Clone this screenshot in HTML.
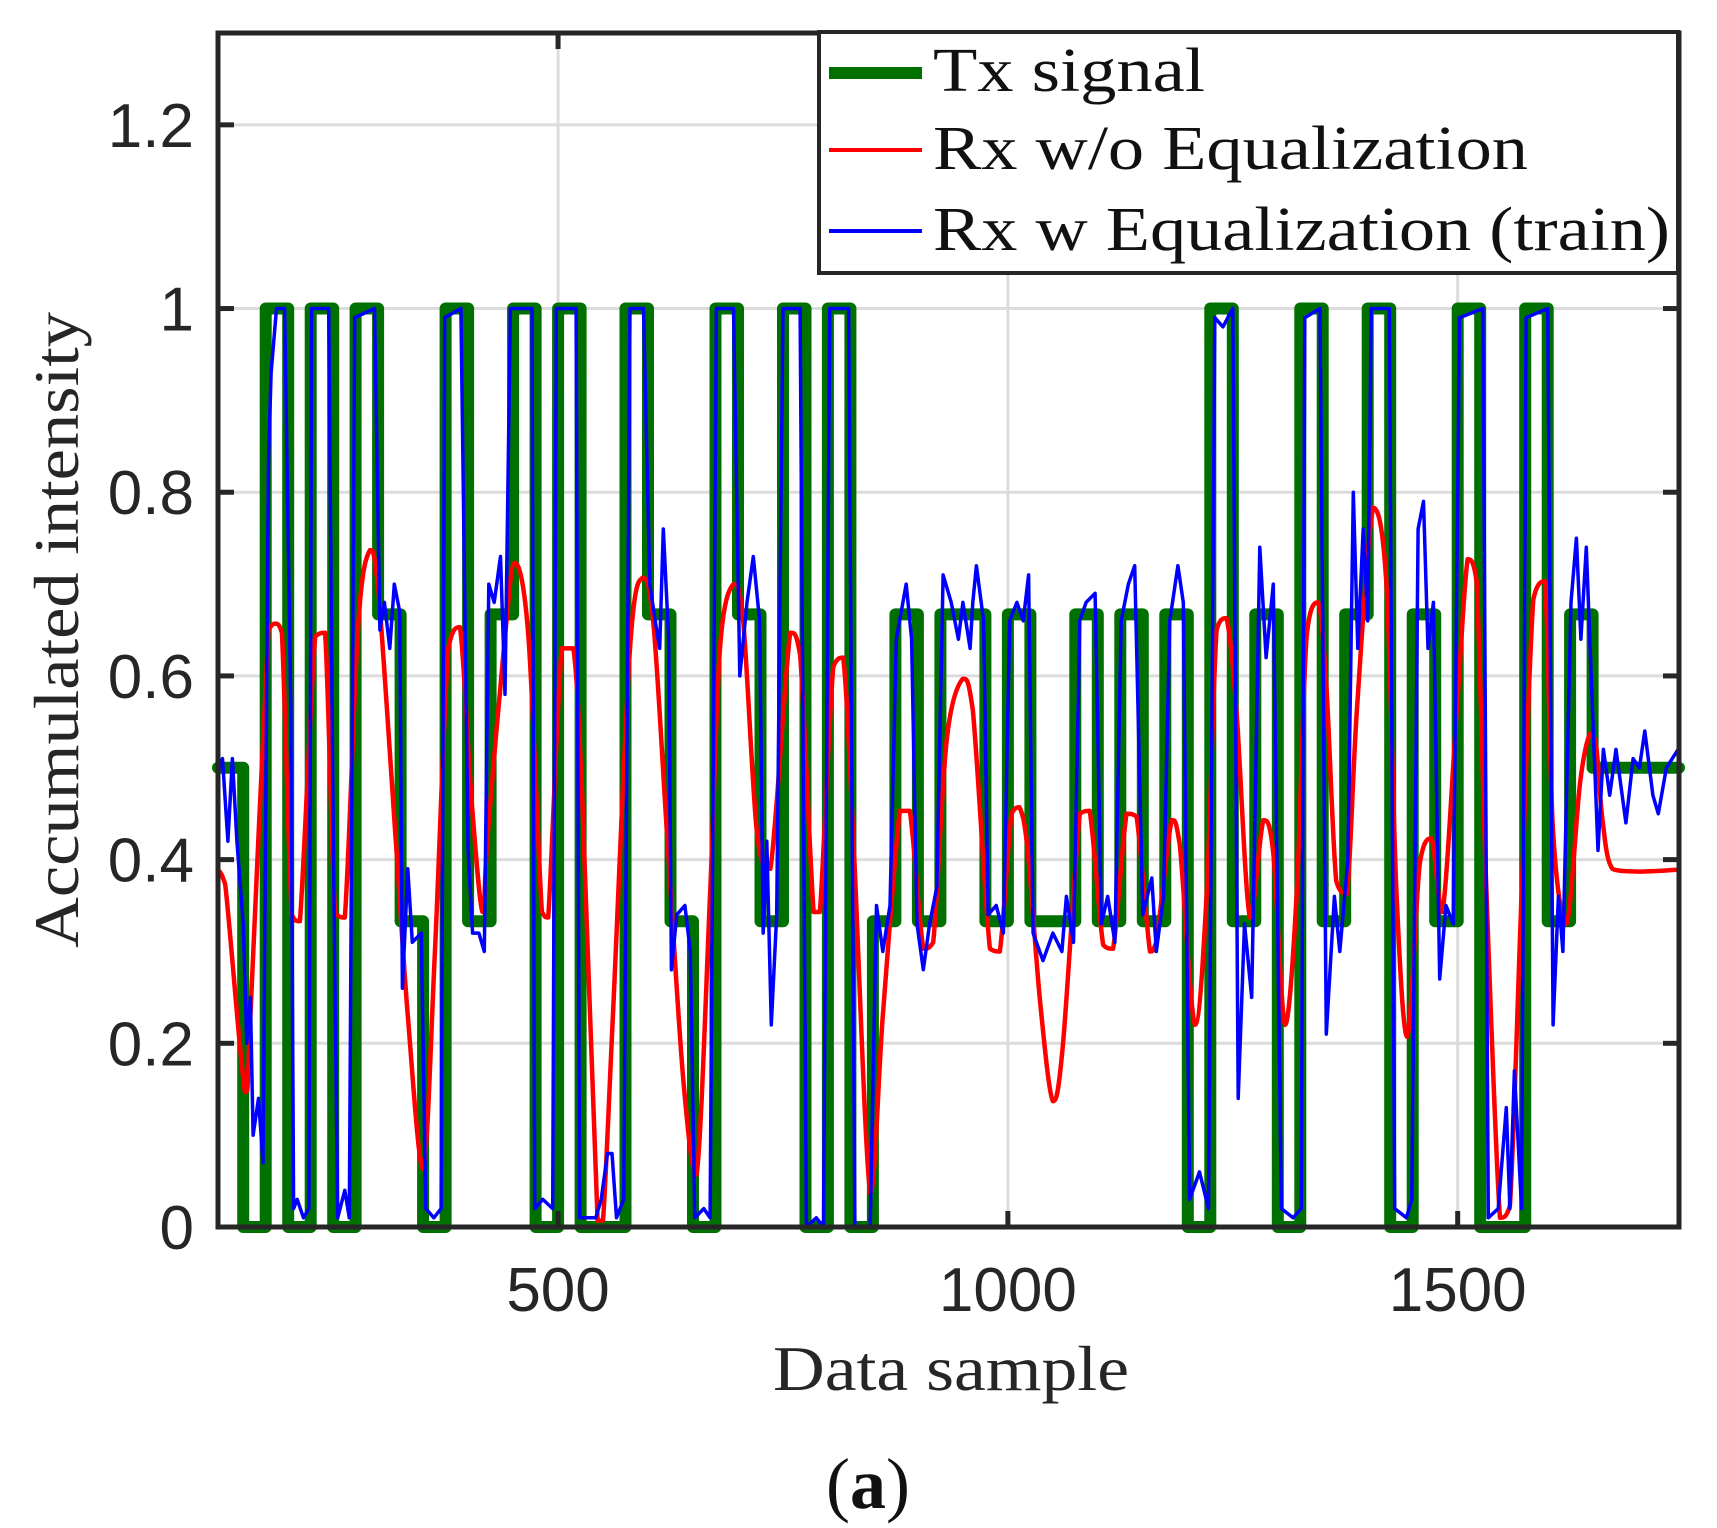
<!DOCTYPE html>
<html><head><meta charset="utf-8"><style>
html,body{margin:0;padding:0;background:#fff;}
svg{display:block;}
</style></head><body>
<svg id="chart" width="1717" height="1528" viewBox="0 0 1717 1528" xmlns="http://www.w3.org/2000/svg">
<rect width="1717" height="1528" fill="#fff"/>
<g id="grid"></g>
<g id="series"></g>
<g id="axes"></g>
<text x="951" y="1390" text-anchor="middle" font-family="Liberation Serif, serif" font-size="64" textLength="356" lengthAdjust="spacingAndGlyphs" fill="#262626">Data sample</text>
<text transform="translate(78,630) rotate(-90)" text-anchor="middle" font-family="Liberation Serif, serif" font-size="64" textLength="636" lengthAdjust="spacingAndGlyphs" fill="#262626">Accumulated intensity</text>
<text x="868" y="1508" text-anchor="middle" font-family="Liberation Serif, serif" font-size="72" fill="#111">(<tspan font-weight="bold">a</tspan>)</text>
<g id="legend">
<rect x="819" y="32" width="859" height="241" fill="#fff" stroke="#262626" stroke-width="4"/>
<line x1="829" y1="73" x2="922" y2="73" stroke="#007000" stroke-width="12"/>
<text x="933" y="91" font-family="Liberation Serif, serif" font-size="62" textLength="272" lengthAdjust="spacingAndGlyphs" fill="#111">Tx signal</text>
<line x1="829" y1="150" x2="922" y2="150" stroke="#ff0000" stroke-width="4"/>
<text x="933" y="169" font-family="Liberation Serif, serif" font-size="62" textLength="595" lengthAdjust="spacingAndGlyphs" fill="#111">Rx w/o Equalization</text>
<line x1="829" y1="231" x2="922" y2="231" stroke="#0000ff" stroke-width="4"/>
<text x="933" y="250" font-family="Liberation Serif, serif" font-size="62" textLength="737" lengthAdjust="spacingAndGlyphs" fill="#111">Rx w Equalization (train)</text>
</g>
</svg>
<script>
const xTicks=[500,1000,1500];
const yTicks=[0,0.2,0.4,0.6,0.8,1,1.2];
const yTickLabels=["0","0.2","0.4","0.6","0.8","1","1.2"];
const xDomain=[122,1746];
const yDomain=[0,1.3];
// Tx step signal: segment start samples and levels
const txStarts=[122,150,175,200,225,250,275,300,325,350,375,400,425,450,475,500,525,575,600,625,650,675,700,725,750,775,800,825,850,875,900,925,975,1000,1025,1075,1100,1125,1150,1175,1200,1225,1250,1275,1300,1325,1350,1375,1400,1425,1450,1475,1500,1525,1575,1600,1625,1650];
const txLevels=[0.5,0,1,0,1,0,1,0.667,0.333,0,1,0.333,0.667,1,0,1,0,1,0.667,0.333,0,1,0.667,0.333,1,0,1,0,0.333,0.667,0.333,0.667,0.333,0.667,0.333,0.667,0.333,0.667,0.333,0.667,0,1,0.333,0.667,0,1,0.333,0.667,1,0,0.667,0.333,1,0,1,0.333,0.667,0.5];
const txEnd=1746;
// Rx without equalization
const redX=[121,130,152,158,178,186,193,204,213,230,241,252,263,278,291,300,319,333,350,363,378,391,404,416,422,441,452,467,482,489,504,517,527,544,550,561,580,594,606,621,639,654,669,680,695,706,721,736,758,769,784,791,806,817,828,847,861,880,891,906,917,932,950,961,980,991,1004,1013,1022,1036,1050,1061,1080,1091,1106,1117,1132,1143,1158,1165,1182,1191,1208,1221,1232,1243,1254,1269,1284,1295,1308,1321,1332,1345,1354,1365,1377,1388,1406,1421,1432,1444,1458,1471,1483,1499,1511,1521,1532,1547,1558,1571,1584,1597,1606,1621,1636,1647,1654,1661,1672,1702,1744];
const redY=[0.39,0.373,0.147,0.23,0.65,0.657,0.647,0.34,0.333,0.643,0.647,0.343,0.337,0.657,0.737,0.697,0.43,0.23,0.063,0.297,0.63,0.653,0.463,0.343,0.43,0.643,0.723,0.643,0.343,0.337,0.63,0.63,0.463,0.007,0.007,0.23,0.63,0.707,0.657,0.43,0.163,0.057,0.363,0.63,0.7,0.657,0.43,0.39,0.647,0.623,0.343,0.343,0.61,0.62,0.43,0.037,0.23,0.453,0.453,0.303,0.31,0.53,0.597,0.563,0.303,0.3,0.45,0.457,0.41,0.243,0.137,0.197,0.45,0.453,0.307,0.303,0.45,0.447,0.3,0.31,0.443,0.417,0.22,0.363,0.65,0.663,0.563,0.337,0.443,0.407,0.22,0.363,0.643,0.68,0.59,0.377,0.363,0.563,0.783,0.697,0.363,0.207,0.397,0.423,0.343,0.563,0.727,0.703,0.363,0.01,0.023,0.363,0.683,0.703,0.43,0.33,0.483,0.537,0.523,0.443,0.39,0.387,0.389];
// Rx with equalization
const blueX=[121,127,133,138,143,150,154,158,161,167,172,178,181,187,196,203,206,210,217,223,226,245,250,255,263,268,274,296,302,307,313,318,324,327,333,338,348,353,362,370,374,392,400,405,412,418,423,429,436,441,447,471,474,483,494,498,520,524,542,548,555,560,565,573,580,595,602,608,613,617,623,626,632,641,647,652,662,669,676,695,702,710,717,724,728,732,737,743,750,769,776,787,795,802,823,830,847,854,861,869,876,887,893,899,906,913,921,928,937,945,950,958,961,965,973,978,987,995,1002,1010,1017,1023,1028,1039,1050,1060,1065,1073,1080,1087,1097,1104,1111,1119,1126,1134,1141,1150,1160,1165,1173,1180,1189,1195,1202,1213,1223,1230,1239,1250,1256,1263,1271,1280,1287,1295,1304,1317,1326,1330,1347,1354,1363,1369,1378,1384,1389,1395,1400,1404,1424,1430,1443,1449,1456,1462,1467,1473,1480,1487,1495,1502,1528,1534,1545,1554,1558,1563,1571,1576,1600,1606,1612,1617,1626,1632,1637,1643,1650,1656,1662,1669,1676,1687,1695,1702,1708,1717,1723,1732,1745];
const blueY=[0.49,0.51,0.42,0.51,0.42,0.33,0.2,0.25,0.1,0.14,0.07,0.83,0.93,1,1,0.56,0.02,0.03,0.01,0.02,1,1,0.43,0.01,0.04,0.01,0.99,1,0.65,0.68,0.63,0.7,0.67,0.26,0.39,0.31,0.32,0.02,0.01,0.02,0.99,1,0.41,0.32,0.32,0.3,0.7,0.68,0.73,0.58,1,1,0.02,0.03,0.02,1,1,0.01,0.01,0.03,0.08,0.08,0.01,0.03,1,1,0.7,0.66,0.63,0.76,0.64,0.28,0.34,0.35,0.3,0.01,0.02,0.01,1,1,0.6,0.68,0.73,0.66,0.32,0.42,0.22,0.34,1,1,0,0.01,0,1,1,0,0,0.35,0.3,0.35,0.64,0.7,0.64,0.33,0.28,0.33,0.37,0.71,0.68,0.64,0.68,0.63,0.68,0.72,0.66,0.34,0.35,0.32,0.66,0.68,0.66,0.71,0.32,0.29,0.32,0.3,0.36,0.31,0.66,0.68,0.69,0.33,0.36,0.31,0.66,0.7,0.72,0.34,0.38,0.3,0.36,0.66,0.72,0.68,0.03,0.06,0.02,0.99,0.98,1,0.14,0.33,0.25,0.74,0.62,0.7,0.02,0.01,0.02,0.99,1,0.21,0.36,0.3,0.4,0.8,0.63,0.76,0.66,1,1,0.02,0.01,0.03,0.76,0.79,0.63,0.68,0.27,0.35,0.33,0.99,1,0.01,0.02,0.13,0.02,0.17,0.02,0.99,1,0.22,0.36,0.3,0.68,0.75,0.64,0.74,0.56,0.41,0.52,0.47,0.52,0.44,0.51,0.5,0.54,0.47,0.45,0.5,0.52];

const L=218,R=1679,T=33,B=1227;
function sx(v){return L+(v-xDomain[0])/(xDomain[1]-xDomain[0])*(R-L);}
function sy(v){return B-(v-yDomain[0])/(yDomain[1]-yDomain[0])*(B-T);}
const NS="http://www.w3.org/2000/svg";
function mk(tag,attrs,parent){const e=document.createElementNS(NS,tag);for(const k in attrs)e.setAttribute(k,attrs[k]);parent.appendChild(e);return e;}
const grid=document.getElementById('grid'),series=document.getElementById('series'),axes=document.getElementById('axes');

xTicks.forEach(t=>{
  const g=mk('line',{x1:sx(t),x2:sx(t),y1:T,y2:B,stroke:'#dcdcdc','stroke-width':3},grid);
  
  
});
yTicks.forEach(t=>{
  if(t===0)return;
  const g=mk('line',{x1:L,x2:R,y1:sy(t),y2:sy(t),stroke:'#dcdcdc','stroke-width':3},grid);
  
  
});

let d='';
for(let i=0;i<txStarts.length;i++){
  const x0=sx(txStarts[i]),x1=sx(i+1<txStarts.length?txStarts[i+1]:txEnd),y=sy(txLevels[i]);
  d+=(i===0?'M':'L')+x0.toFixed(1)+','+y.toFixed(1)+'L'+x1.toFixed(1)+','+y.toFixed(1);
}
const tx=mk('path',{d:d,fill:'none',stroke:'#007000','stroke-width':12,'stroke-linejoin':'round','stroke-linecap':'round'},series);



function smooth(xs,ys){
  const p=xs.map((x,i)=>[sx(x),sy(ys[i])]);
  let s='M'+p[0][0].toFixed(1)+','+p[0][1].toFixed(1);
  for(let i=0;i<p.length-1;i++){
    const p0=p[Math.max(0,i-1)],p1=p[i],p2=p[i+1],p3=p[Math.min(p.length-1,i+2)];
    const lo=Math.min(p1[1],p2[1]),hi=Math.max(p1[1],p2[1]);
    const c1=[p1[0]+(p2[0]-p0[0])/6,Math.min(hi,Math.max(lo,p1[1]+(p2[1]-p0[1])/6))];
    const c2=[p2[0]-(p3[0]-p1[0])/6,Math.min(hi,Math.max(lo,p2[1]-(p3[1]-p1[1])/6))];
    s+='C'+c1[0].toFixed(1)+','+c1[1].toFixed(1)+' '+c2[0].toFixed(1)+','+c2[1].toFixed(1)+' '+p2[0].toFixed(1)+','+p2[1].toFixed(1);
  }
  return s;
}
const red=mk('path',{d:smooth(redX,redY),fill:'none',stroke:'#ff0000','stroke-width':4.5,'stroke-linejoin':'round'},series);


const bd=blueX.map((x,i)=>(i?'L':'M')+sx(x).toFixed(1)+','+sy(blueY[i]).toFixed(1)).join('');
const blue=mk('path',{d:bd,fill:'none',stroke:'#0000ff','stroke-width':3.5,'stroke-linejoin':'round'},series);



const box=mk('rect',{x:L,y:T,width:R-L,height:B-T,fill:'none',stroke:'#262626','stroke-width':5},axes);


yTicks.forEach((t,i)=>{
  const y=sy(t);
  const a=mk('line',{x1:L,x2:L+16,y1:y,y2:y,stroke:'#262626','stroke-width':5},axes);
  
  
  const b=mk('line',{x1:R-16,x2:R,y1:y,y2:y,stroke:'#262626','stroke-width':5},axes);
  
  
  const tl=mk('text',{x:194,y:y+22,'text-anchor':'end','font-family':'Liberation Sans, sans-serif','font-size':62,fill:'#262626'},axes);
  tl.textContent=yTickLabels[i];
  
  
});
xTicks.forEach(t=>{
  const x=sx(t);
  const a=mk('line',{x1:x,x2:x,y1:B-16,y2:B,stroke:'#262626','stroke-width':5},axes);
  
  
  const b=mk('line',{x1:x,x2:x,y1:T,y2:T+16,stroke:'#262626','stroke-width':5},axes);
  
  
  const tl=mk('text',{x:x,y:1311,'text-anchor':'middle','font-family':'Liberation Sans, sans-serif','font-size':62,fill:'#262626'},axes);
  tl.textContent=String(t);
  
  
});
</script>
</body></html>
